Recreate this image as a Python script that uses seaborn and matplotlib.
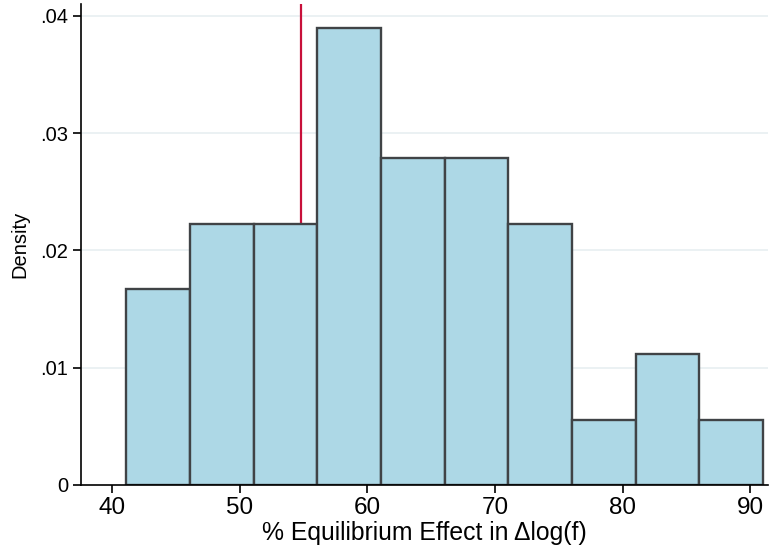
import matplotlib
matplotlib.use("Agg")
import matplotlib.pyplot as plt
import seaborn as sns
import numpy as np
import pandas as pd

# Data
bin_edges = [41.1, 46.09, 51.08, 56.07, 61.06, 66.05, 71.04, 76.03, 81.02, 86.01, 91.0]
counts = [3, 4, 4, 7, 5, 5, 4, 1, 2, 1]
ref_line = 54.77
x_ticks = [40, 50, 60, 70, 80, 90]
y_ticks = [0, 0.01, 0.02, 0.03, 0.04]
y_ticklabels = ["0", ".01", ".02", ".03", ".04"]
x_label = "% Equilibrium Effect in \u0394log(f)"
y_label = "Density"

centers = [(a + b) / 2 for a, b in zip(bin_edges[:-1], bin_edges[1:])]
df = pd.DataFrame({"value": centers, "count": counts})

sns.set_style("white")
plt.rcParams['font.family'] = ['Liberation Sans', 'DejaVu Sans']
plt.rcParams.update({"text.color": "black", "axes.labelcolor": "black",
                     "xtick.color": "black", "ytick.color": "black"})

fig = plt.figure(figsize=(7.69, 5.52), dpi=100)
ax = fig.add_axes([0.105, 0.1214, 0.8937, 0.8714])

for yv in y_ticks[1:]:
    ax.axhline(yv, color="#e8eff1", lw=1.2, zorder=0)

ax.axvline(ref_line, color="#c8103a", lw=1.6, zorder=1)

sns.histplot(data=df, x="value", weights="count", bins=bin_edges, stat="density",
             color="#add8e6", edgecolor="#404346", linewidth=1.7, alpha=1.0, ax=ax, zorder=2)

ax.set_xlim(37.54, 91.4)
ax.set_ylim(0, 0.041)
ax.set_xticks(x_ticks)
ax.set_xticklabels([str(t) for t in x_ticks], fontsize=17.5)
ax.set_yticks(y_ticks)
ax.set_yticklabels(y_ticklabels, fontsize=14.5)
ax.tick_params(axis="both", direction="out", length=6, width=1.2, color="black",
               labelcolor="black", left=True, bottom=True, pad=3)
ax.set_xlabel(x_label, fontsize=17.8, labelpad=1, color="black")
ax.set_ylabel(y_label, fontsize=14.5, labelpad=8, color="black")

for s in ["top", "right"]:
    ax.spines[s].set_visible(False)
for s in ["left", "bottom"]:
    ax.spines[s].set_color("black")
    ax.spines[s].set_linewidth(1.2)

fig.savefig("out.png", dpi=100)
